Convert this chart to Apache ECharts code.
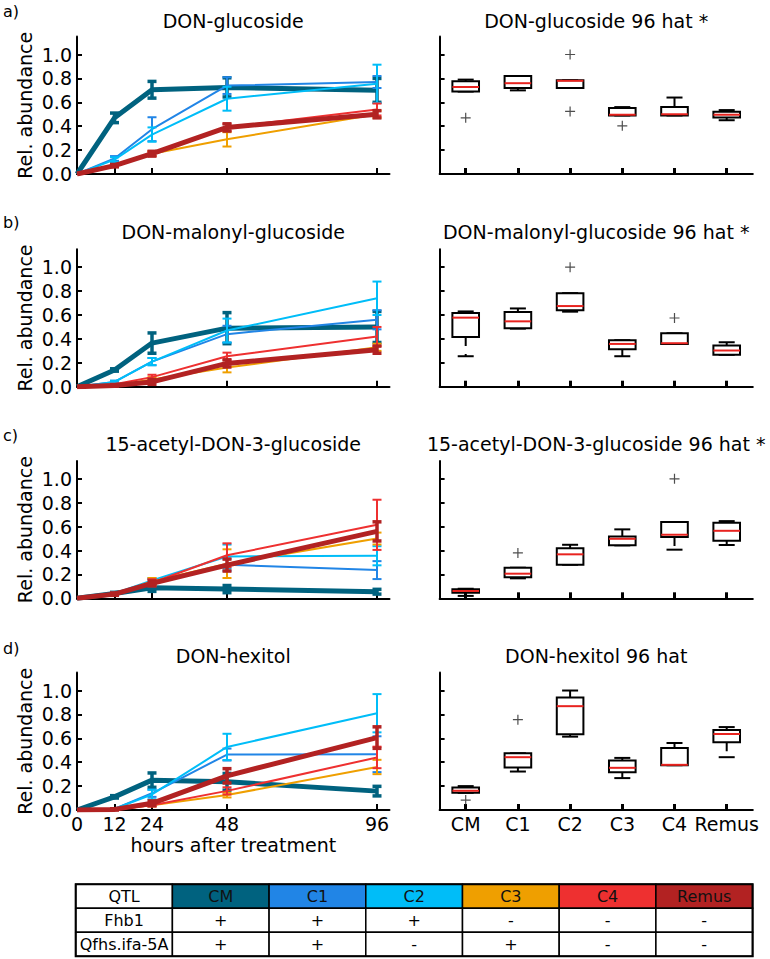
<!DOCTYPE html>
<html><head><meta charset="utf-8">
<script src="https://cdn.jsdelivr.net/npm/echarts@6/dist/echarts.min.js"></script>
<style>html,body{margin:0;padding:0;background:#fff}#c{width:770px;height:959px}</style>
</head><body><div id="c"></div>
<script>
// ---------- data ----------
const hours = [0, 12, 24, 48, 96];
const lines = ['CM', 'C1', 'C2', 'C3', 'C4', 'Remus'];
const colors = ['#00627f', '#2185e6', '#00bdf8', '#ef9f00', '#ee3030', '#b22222'];
const lineWidths = [5, 2, 2, 2, 2, 5];
const panelTitles = ['DON-glucoside', 'DON-malonyl-glucoside', '15-acetyl-DON-3-glucoside', 'DON-hexitol'];
const boxTitles = ['DON-glucoside 96 hat *', 'DON-malonyl-glucoside 96 hat *', '15-acetyl-DON-3-glucoside 96 hat *', 'DON-hexitol 96 hat'];
const panelLetters = ['a)', 'b)', 'c)', 'd)'];
const yTicks = [0, 0.2, 0.4, 0.6, 0.8, 1.0];
const xTicks = [0, 12, 24, 48, 96];
const xAxisName = 'hours after treatment';
const yAxisName = 'Rel. abundance';

// time courses (rows: CM, C1, C2, C3, C4, Remus)
const glucosideMean = [
  [0, 0.47, 0.705, 0.725, 0.70],
  [0, 0.13, 0.375, 0.74, 0.77],
  [0, 0.12, 0.33, 0.63, 0.755],
  [0, 0.07, 0.17, 0.29, 0.50],
  [0, 0.07, 0.17, 0.39, 0.54],
  [0, 0.07, 0.17, 0.39, 0.50]
];
const glucosideErr = [
  [0, 0.04, 0.07, 0.08, 0.10],
  [0, 0.02, 0.10, 0.07, 0.05],
  [0, 0.02, 0.06, 0.10, 0.16],
  [0, 0.01, 0.02, 0.06, 0.03],
  [0, 0.01, 0.02, 0.03, 0.05],
  [0, 0.01, 0.02, 0.03, 0.03]
];
const malonylMean = [
  [0, 0.14, 0.365, 0.49, 0.50],
  [0, 0.04, 0.21, 0.44, 0.56],
  [0, 0.04, 0.21, 0.47, 0.74],
  [0, 0.01, 0.06, 0.16, 0.33],
  [0, 0.02, 0.08, 0.255, 0.42],
  [0, 0.01, 0.04, 0.195, 0.31]
];
const malonylErr = [
  [0, 0.01, 0.085, 0.13, 0.13],
  [0, 0.01, 0.03, 0.07, 0.08],
  [0, 0.01, 0.03, 0.10, 0.14],
  [0, 0.005, 0.02, 0.04, 0.03],
  [0, 0.005, 0.02, 0.03, 0.08],
  [0, 0.005, 0.02, 0.03, 0.03]
];
const acetylMean = [
  [0, 0.04, 0.088, 0.077, 0.055],
  [0, 0.04, 0.14, 0.28, 0.236],
  [0, 0.04, 0.15, 0.35, 0.356],
  [0, 0.035, 0.14, 0.29, 0.50],
  [0, 0.035, 0.13, 0.36, 0.615],
  [0, 0.035, 0.125, 0.278, 0.56]
];
const acetylErr = [
  [0, 0.01, 0.03, 0.03, 0.02],
  [0, 0.01, 0.02, 0.05, 0.075],
  [0, 0.01, 0.02, 0.10, 0.08],
  [0, 0.01, 0.03, 0.12, 0.05],
  [0, 0.01, 0.03, 0.10, 0.21],
  [0, 0.01, 0.02, 0.05, 0.08]
];
const hexitolMean = [
  [0, 0.11, 0.25, 0.236, 0.158],
  [0, 0.01, 0.14, 0.464, 0.467],
  [0, 0.01, 0.13, 0.528, 0.81],
  [0, 0.005, 0.04, 0.125, 0.36],
  [0, 0.005, 0.04, 0.16, 0.44],
  [0, 0.005, 0.056, 0.286, 0.606]
];
const hexitolErr = [
  [0, 0.01, 0.06, 0.07, 0.04],
  [0, 0.005, 0.03, 0.05, 0.15],
  [0, 0.005, 0.04, 0.11, 0.16],
  [0, 0.005, 0.01, 0.02, 0.06],
  [0, 0.005, 0.01, 0.03, 0.09],
  [0, 0.005, 0.02, 0.06, 0.09]
];

// 96 hat boxplots: [min, q1, median, q3, max] per line
const glucosideBox = [
  [0.69, 0.69, 0.728, 0.776, 0.79],
  [0.70, 0.72, 0.76, 0.82, 0.82],
  [0.72, 0.72, 0.78, 0.784, 0.784],
  [0.49, 0.49, 0.496, 0.552, 0.56],
  [0.49, 0.49, 0.50, 0.56, 0.64],
  [0.45, 0.473, 0.496, 0.521, 0.535]
];
const glucosideOut = [[0, 0.47], [2, 1.0], [2, 0.524], [3, 0.403]];
const malonylBox = [
  [0.255, 0.417, 0.578, 0.617, 0.63],
  [0.486, 0.49, 0.547, 0.625, 0.655],
  [0.628, 0.639, 0.675, 0.783, 0.783],
  [0.255, 0.314, 0.358, 0.389, 0.389],
  [0.358, 0.358, 0.364, 0.447, 0.447],
  [0.267, 0.267, 0.303, 0.344, 0.372]
];
const malonylOut = [[2, 1.0], [4, 0.575]];
const acetylBox = [
  [0.02, 0.047, 0.061, 0.075, 0.08],
  [0.167, 0.176, 0.206, 0.256, 0.256],
  [0.281, 0.281, 0.368, 0.418, 0.448],
  [0.443, 0.443, 0.498, 0.518, 0.577],
  [0.407, 0.513, 0.532, 0.638, 0.638],
  [0.446, 0.482, 0.565, 0.632, 0.646]
];
const acetylOut = [[1, 0.38], [4, 1.0]];
const hexitolBox = [
  [0.144, 0.144, 0.161, 0.189, 0.20],
  [0.322, 0.356, 0.442, 0.475, 0.475],
  [0.614, 0.633, 0.869, 0.942, 1.0],
  [0.267, 0.317, 0.353, 0.414, 0.436],
  [0.375, 0.375, 0.378, 0.519, 0.561],
  [0.442, 0.567, 0.636, 0.669, 0.694]
];
const hexitolOut = [[0, 0.083], [1, 0.756]];

// QTL table
const qtlHeader = 'QTL';
const qtlRows = [
  ['Fhb1', '+', '+', '+', '-', '-', '-'],
  ['Qfhs.ifa-5A', '+', '+', '-', '+', '-', '-']
];

const panelMeans = [glucosideMean, malonylMean, acetylMean, hexitolMean];
const panelErrs = [glucosideErr, malonylErr, acetylErr, hexitolErr];
const panelBoxes = [glucosideBox, malonylBox, acetylBox, hexitolBox];
const panelOuts = [glucosideOut, malonylOut, acetylOut, hexitolOut];

// ---------- layout ----------
const FONT = 'DejaVu Sans';
const gridTops = [36.6, 249.3, 460.9, 672.6];
const gridH = 137.4;
const leftX = 77, leftW = 312.5;
const rightX = 439.6, rightW = 313.2;
const titleCY = [22.5, 233, 445, 657];
const letterCY = [12, 223, 436, 649];

const grids = [], xAxes = [], yAxes = [], series = [], titles = [], graphics = [];

function axisBase() {
  return {
    axisLine: { show: true, onZero: false, lineStyle: { color: '#000', width: 2 } },
    splitLine: { show: false }
  };
}

function errRender(color, lw) {
  return function (params, api) {
    const x = api.value(0), m = api.value(1), e = api.value(2);
    if (!e) return null;
    const t = api.coord([x, m + e]), b = api.coord([x, m - e]);
    const hw = 4.5;
    const st = { stroke: color, lineWidth: lw };
    return { type: 'group', children: [
      { type: 'line', shape: { x1: t[0], y1: t[1], x2: b[0], y2: b[1] }, style: st },
      { type: 'line', shape: { x1: t[0] - hw, y1: t[1], x2: t[0] + hw, y2: t[1] }, style: st },
      { type: 'line', shape: { x1: b[0] - hw, y1: b[1], x2: b[0] + hw, y2: b[1] }, style: st }
    ] };
  };
}

function boxRender(params, api) {
  const i = api.value(0);
  const mn = api.value(1), q1 = api.value(2), md = api.value(3), q3 = api.value(4), mx = api.value(5);
  const pMin = api.coord([i, mn]), pQ1 = api.coord([i, q1]), pMd = api.coord([i, md]);
  const pQ3 = api.coord([i, q3]), pMax = api.coord([i, mx]);
  const bw = api.size([1, 0])[0] * 0.255;
  const cw = 8;
  const cx = pMd[0];
  const blk = { stroke: '#000', lineWidth: 2, fill: null };
  const dash = { stroke: '#000', lineWidth: 2, lineDash: [9, 8] };
  const ch = [];
  if (mx > q3) {
    ch.push({ type: 'line', shape: { x1: cx, y1: pQ3[1], x2: cx, y2: pMax[1] }, style: dash });
  }
  ch.push({ type: 'line', shape: { x1: cx - cw, y1: pMax[1], x2: cx + cw, y2: pMax[1] }, style: blk });
  if (mn < q1) {
    ch.push({ type: 'line', shape: { x1: cx, y1: pQ1[1], x2: cx, y2: pMin[1] }, style: dash });
  }
  ch.push({ type: 'line', shape: { x1: cx - cw, y1: pMin[1], x2: cx + cw, y2: pMin[1] }, style: blk });
  ch.push({ type: 'rect', shape: { x: cx - bw, y: pQ3[1], width: 2 * bw, height: pQ1[1] - pQ3[1] },
            style: { stroke: '#000', lineWidth: 2, fill: '#fff' } });
  ch.push({ type: 'line', shape: { x1: cx - bw, y1: pMd[1], x2: cx + bw, y2: pMd[1] },
            style: { stroke: '#e8231f', lineWidth: 2 } });
  return { type: 'group', children: ch };
}

const labelStyle = { color: '#000', fontSize: 19, fontFamily: FONT };

for (let p = 0; p < 4; p++) {
  const last = p === 3;
  // left grid
  grids.push({ left: leftX, top: gridTops[p], width: leftW, height: gridH });
  const gl = grids.length - 1;
  xAxes.push(Object.assign(axisBase(), {
    type: 'value', gridIndex: gl, min: 0, max: 100,
    axisTick: { show: true, inside: true, length: 6, lineStyle: { color: '#000', width: 2 }, customValues: xTicks },
    axisLabel: Object.assign({ show: last, margin: 4, customValues: xTicks }, labelStyle),
    name: last ? xAxisName : '', nameLocation: 'middle', nameGap: 25,
    nameTextStyle: labelStyle
  }));
  yAxes.push(Object.assign(axisBase(), {
    type: 'value', gridIndex: gl, min: 0, max: 1.15,
    axisTick: { show: true, inside: true, length: 5, lineStyle: { color: '#000', width: 2 }, customValues: yTicks },
    axisLabel: Object.assign({ margin: 5, customValues: yTicks, formatter: v => v.toFixed(1) }, labelStyle),
    name: yAxisName, nameLocation: 'middle', nameRotate: 90, nameGap: 43,
    nameTextStyle: labelStyle
  }));
  lines.forEach((ln, k) => {
    series.push({
      type: 'line', name: ln, xAxisIndex: gl, yAxisIndex: gl,
      data: hours.map((h, j) => [h, panelMeans[p][k][j]]),
      symbol: 'none', lineStyle: { color: colors[k], width: lineWidths[k] },
      itemStyle: { color: colors[k] }, silent: true, animation: false, z: 2 + k
    });
    series.push({
      type: 'custom', name: ln + ' sd', xAxisIndex: gl, yAxisIndex: gl,
      data: hours.map((h, j) => [h, panelMeans[p][k][j], panelErrs[p][k][j]]),
      renderItem: errRender(colors[k], lineWidths[k] >= 4 ? 3.5 : 2),
      silent: true, animation: false, z: 2 + k
    });
  });
  titles.push({ text: panelTitles[p], left: leftX + leftW / 2, top: titleCY[p] - 11, textAlign: 'center', padding: 0,
                textStyle: { fontSize: 19, fontWeight: 'normal', color: '#000', fontFamily: FONT } });

  // right grid
  grids.push({ left: rightX, top: gridTops[p], width: rightW, height: gridH });
  const gr = grids.length - 1;
  xAxes.push(Object.assign(axisBase(), {
    type: 'category', gridIndex: gr, data: lines, boundaryGap: true,
    axisTick: { show: true, inside: true, length: 6, alignWithLabel: true, lineStyle: { color: '#000', width: 3 } },
    axisLabel: Object.assign({ show: last, margin: 4, interval: 0 }, labelStyle)
  }));
  yAxes.push(Object.assign(axisBase(), {
    type: 'value', gridIndex: gr, min: 0, max: 1.15,
    axisTick: { show: true, inside: true, length: 5, lineStyle: { color: '#000', width: 2 }, customValues: yTicks },
    axisLabel: { show: false }
  }));
  series.push({
    type: 'custom', name: boxTitles[p], xAxisIndex: gr, yAxisIndex: gr,
    data: panelBoxes[p].map((b, i) => [i].concat(b)),
    encode: { x: 0, y: [1, 2, 3, 4, 5] },
    renderItem: boxRender, silent: true, animation: false, z: 3
  });
  series.push({
    type: 'scatter', name: boxTitles[p] + ' outliers', xAxisIndex: gr, yAxisIndex: gr,
    data: panelOuts[p],
    symbol: 'path://M5,0L5,10M0,5L10,5', symbolSize: 10,
    itemStyle: { color: 'none', borderColor: '#222', borderWidth: 1.2 },
    silent: true, animation: false, z: 4
  });
  titles.push({ text: boxTitles[p], left: rightX + rightW / 2, top: titleCY[p] - 11, textAlign: 'center', padding: 0,
                textStyle: { fontSize: 19, fontWeight: 'normal', color: '#000', fontFamily: FONT } });

  graphics.push({ type: 'text', left: 3, top: letterCY[p] - 9,
                  style: { text: panelLetters[p], fontSize: 16, fontFamily: FONT, fill: '#000' } });
}

// QTL table
const tX = 75.7, tY = 884.3, cW = 96.7, rH = 24;
const headerCells = [qtlHeader].concat(lines);
headerCells.forEach((txt, c) => {
  graphics.push({ type: 'rect', shape: { x: tX + c * cW, y: tY, width: cW, height: rH },
    style: { fill: c === 0 ? '#fff' : colors[c - 1], stroke: '#000', lineWidth: 1.5 } });
  graphics.push({ type: 'text', x: tX + c * cW + cW / 2, y: tY + rH / 2,
    style: { text: txt, fontSize: 16, fontFamily: FONT, fill: c === 0 ? '#000' : '#111', align: 'center', verticalAlign: 'middle' } });
});
qtlRows.forEach((row, r) => {
  row.forEach((txt, c) => {
    const y0 = tY + (r + 1) * rH;
    graphics.push({ type: 'rect', shape: { x: tX + c * cW, y: y0, width: cW, height: rH },
      style: { fill: '#fff', stroke: '#000', lineWidth: 1.5 } });
    graphics.push({ type: 'text', x: tX + c * cW + cW / 2, y: y0 + rH / 2,
      style: { text: txt, fontSize: 16, fontFamily: FONT, fill: '#000', align: 'center', verticalAlign: 'middle' } });
  });
});
graphics.push({ type: 'rect', shape: { x: tX, y: tY, width: 7 * cW, height: 3 * rH },
  style: { fill: 'none', stroke: '#000', lineWidth: 2 } });

const chart = echarts.init(document.getElementById('c'), null, { renderer: 'svg' });
chart.setOption({
  animation: false,
  backgroundColor: '#fff',
  title: titles,
  grid: grids,
  xAxis: xAxes,
  yAxis: yAxes,
  series: series,
  graphic: graphics
});
</script>
</body></html>
